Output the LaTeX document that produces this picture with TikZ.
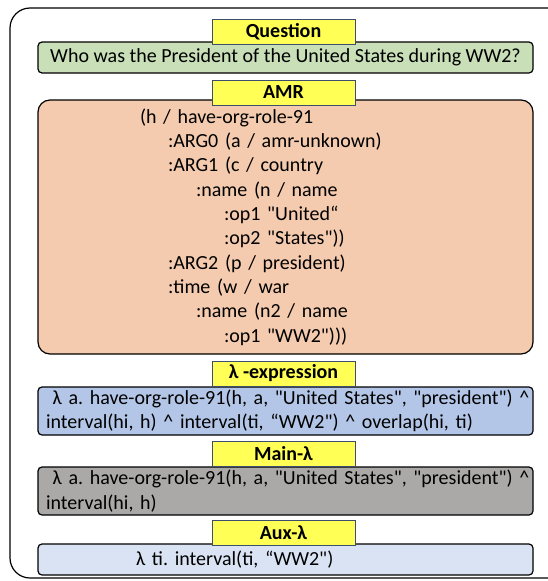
\documentclass[tikz,border=0pt]{standalone}
\usepackage{fontspec}
\setmainfont{Carlito}[Ligatures=TeXOff]
\frenchspacing

\definecolor{tagyellow}{HTML}{FFFF55}
\definecolor{tagedge}{HTML}{3E4F6E}
\definecolor{qgreen}{HTML}{C9DFB8}
\definecolor{amrpeach}{HTML}{F4CBAE}
\definecolor{exprblue}{HTML}{B4C6E7}
\definecolor{maingrey}{HTML}{ABA9A8}
\definecolor{auxblue}{HTML}{DAE3F3}

\newcommand{\amrstep}{\hspace*{28pt}}

\tikzset{
  tag/.style={draw=tagedge, fill=tagyellow, line width=0.9pt, minimum width=143pt,
    minimum height=25pt, inner sep=0pt, font=\fontsize{20}{24}\selectfont\bfseries},
  panel/.style={draw=black, line width=1.2pt, rounded corners=4pt, minimum width=495pt,
    inner sep=0pt, font=\fontsize{20}{24.3}\selectfont},
}

\begin{document}
\begin{tikzpicture}[x=1pt,y=-1pt]
		\useasboundingbox (0,0) rectangle (548,581);
		
		%outer frame
		\begin{scope}
		\clip (0,0) rectangle (548,581);
		\draw[line width=1.2pt, rounded corners=20pt] (10,8) rectangle (580,578);
		\end{scope}
		
		%boxes
		\node[panel, fill=qgreen, minimum height=31pt] (question) at (285.5,57.5)
		  {Who was the President of the United States during WW2?};
		\node[panel, fill=amrpeach, minimum height=254pt, rounded corners=12pt,
		  inner xsep=102pt, text width=291pt, align=left] (amr) at (285.5,227)
		  {(h / have-org-role-91\\
		  \amrstep:ARG0 (a / amr-unknown)\\
		  \amrstep:ARG1 (c / country\\
		  \amrstep\amrstep:name (n / name\\
		  \amrstep\amrstep\amrstep:op1 "United“\\
		  \amrstep\amrstep\amrstep:op2 "States"))\\
		  \amrstep:ARG2 (p / president)\\
		  \amrstep:time (w / war\\
		  \amrstep\amrstep:name (n2 / name\\
		  \amrstep\amrstep\amrstep:op1 "WW2")))};
		\node[panel, fill=exprblue, minimum height=48pt, inner xsep=8pt, text width=479pt,
		  align=left] (lambdaexpr) at (285.5,411)
		  {\mbox{\ λ a. have-org-role-91(h, a, "United States", "president") \textasciicircum}\\
		  interval(hi, h) \textasciicircum\ interval(ti, “WW2") \textasciicircum\ overlap(hi, ti)};
		\node[panel, fill=maingrey, minimum height=48pt, inner xsep=8pt, text width=479pt,
		  align=left] (mainlambda) at (285.5,491)
		  {\mbox{\ λ a. have-org-role-91(h, a, "United States", "president") \textasciicircum}\\
		  interval(hi, h)};
		\node[panel, fill=auxblue, minimum height=31pt, inner xsep=98pt, text width=299pt,
		  align=left] (auxlambda) at (285.5,559.5)
		  {λ ti. interval(ti, “WW2")};
		
		%labels
		\node[tag] (questiontag) at (283.5,31.5) {Question};
		\node[tag] (amrtag) at (283.5,92.5) {AMR};
		\node[tag] (lambdatag) at (283.5,373.5) {λ -expression};
		\node[tag] (maintag) at (283.5,454) {Main-λ};
		\node[tag] (auxtag) at (283.5,533) {Aux-λ};
		
\end{tikzpicture}
\end{document}
